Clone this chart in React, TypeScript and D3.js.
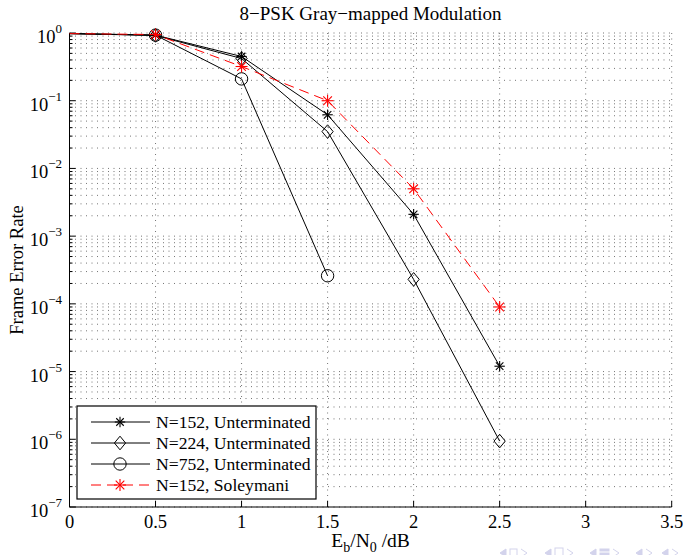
import React from "react";
import * as d3 from "d3";

const W = 683;
const H = 555;

const xTickValues = [0, 0.5, 1, 1.5, 2, 2.5, 3, 3.5];
const xTickLabels = ["0", "0.5", "1", "1.5", "2", "2.5", "3", "3.5"];
const yExponents = [0, -1, -2, -3, -4, -5, -6, -7];

const ebno = [0, 0.5, 1, 1.5, 2, 2.5];
const fer152 = [0.98, 0.93, 0.45, 0.062, 0.0021, 1.2e-5];
const fer224 = [0.98, 0.92, 0.42, 0.035, 2.3e-4, 9.4e-7];
const fer752 = [0.98, 0.93, 0.21, 2.6e-4];
const ferSoleymani = [0.98, 0.95, 0.32, 0.1, 0.005, 9e-5];

const seriesNames = [
  "N=152, Unterminated",
  "N=224, Unterminated",
  "N=752, Unterminated",
  "N=152, Soleymani",
];

type Series = {
  name: string;
  values: number[];
  color: string;
  dash?: string;
  marker: "star" | "diamond" | "circle";
};

const series: Series[] = [
  { name: seriesNames[0], values: fer152, color: "#000", marker: "star" },
  { name: seriesNames[1], values: fer224, color: "#000", marker: "diamond" },
  { name: seriesNames[2], values: fer752, color: "#000", marker: "circle" },
  { name: seriesNames[3], values: ferSoleymani, color: "#ff0000", dash: "10,6", marker: "star" },
];

const left = 69.5;
const right = 671.7;
const top = 33;
const bottom = 507;

const x = d3.scaleLinear().domain([0, 3.5]).range([left, right]);
const y = d3.scaleLog().domain([1e-7, 1]).range([bottom, top]);

function Marker({ kind, cx, cy, color, big }: { kind: string; cx: number; cy: number; color: string; big?: boolean }) {
  if (kind === "star") {
    const r = big ? 6 : 5.2;
    const d = r * 0.72;
    return (
      <g stroke={color} strokeWidth={1.1}>
        <line x1={cx - r} y1={cy} x2={cx + r} y2={cy} />
        <line x1={cx} y1={cy - r} x2={cx} y2={cy + r} />
        <line x1={cx - d} y1={cy - d} x2={cx + d} y2={cy + d} />
        <line x1={cx - d} y1={cy + d} x2={cx + d} y2={cy - d} />
      </g>
    );
  }
  if (kind === "diamond") {
    const r = 6.8;
    const rx = 5.6;
    return (
      <path
        d={`M${cx},${cy - r}L${cx + rx},${cy}L${cx},${cy + r}L${cx - rx},${cy}Z`}
        fill="none"
        stroke={color}
        strokeWidth={1}
      />
    );
  }
  return <circle cx={cx} cy={cy} r={6.2} fill="none" stroke={color} strokeWidth={1} />;
}

export default function App() {
  const line = d3
    .line<number>()
    .x((_, i) => x(ebno[i]))
    .y((v) => y(v));

  const minorY: number[] = [];
  for (let e = -7; e < 0; e++) {
    for (let m = 2; m <= 9; m++) minorY.push(m * Math.pow(10, e));
  }
  const majorY = yExponents.map((e) => Math.pow(10, e));

  const serif = "'Liberation Serif', 'Times New Roman', serif";

  const legendX = 77;
  const legendY = 406;
  const legendW = 239;
  const legendH = 93;
  const rowH = 21;

  return (
    <svg
      width={W}
      height={H}
      style={{ position: "absolute", left: 0, top: 0, background: "#fff" }}
      fontFamily={serif}
    >
      <rect x={0} y={0} width={W} height={H} fill="#fff" />
      {/* grid */}
      <g stroke="#333" strokeWidth={0.9} strokeDasharray="1,4.5" opacity={0.75}>
        {minorY.concat(majorY).map((v, i) => (
          <line key={"h" + i} x1={left} x2={right} y1={y(v)} y2={y(v)} />
        ))}
        {xTickValues.slice(1).map((v, i) => (
          <line key={"v" + i} x1={x(v)} x2={x(v)} y1={top} y2={bottom} />
        ))}
      </g>
      {/* axes */}
      <g stroke="#000" strokeWidth={1}>
        <line x1={left} x2={left} y1={top} y2={bottom} />
        <line x1={left} x2={right} y1={bottom} y2={bottom} />
        {xTickValues.map((v, i) => (
          <line key={"xt" + i} x1={x(v)} x2={x(v)} y1={bottom} y2={bottom - 6} />
        ))}
        {majorY.map((v, i) => (
          <line key={"yt" + i} x1={left} x2={left + 6} y1={y(v)} y2={y(v)} />
        ))}
        {minorY.map((v, i) => (
          <line key={"ym" + i} x1={left} x2={left + 3} y1={y(v)} y2={y(v)} />
        ))}
      </g>
      {/* tick labels */}
      <g fontSize={18.5} fill="#000">
        {xTickValues.map((v, i) => (
          <text key={"xl" + i} x={x(v)} y={bottom + 21} textAnchor="middle">
            {xTickLabels[i]}
          </text>
        ))}
        {yExponents.map((e, i) => (
          <text key={"yl" + i} x={62} y={y(Math.pow(10, e)) + 10} textAnchor="end">
            10
            <tspan fontSize={13} dy={-10}>
              {e === 0 ? "0" : "\u2212" + Math.abs(e)}
            </tspan>
          </text>
        ))}
      </g>
      {/* axis labels and title */}
      <text x={(left + right) / 2} y={20} textAnchor="middle" fontSize={19}>
        8−PSK Gray−mapped Modulation
      </text>
      <text x={(left + right) / 2} y={547} fontSize={19.5} textAnchor="middle">
        E
        <tspan fontSize={14} dy={5}>b</tspan>
        <tspan dy={-5}>/N</tspan>
        <tspan fontSize={14} dy={5}>0</tspan>
        <tspan dy={-5}> /dB</tspan>
      </text>
      <text
        transform={`translate(23,${(top + bottom) / 2}) rotate(-90)`}
        textAnchor="middle"
        fontSize={18.5}
      >
        Frame Error Rate
      </text>
      {/* data */}
      {series.map((s, si) => (
        <g key={"s" + si}>
          <path
            d={line(s.values) || ""}
            fill="none"
            stroke={s.color}
            strokeWidth={1}
            strokeDasharray={s.dash}
          />
          {s.values.slice(1).map((v, i) => (
            <Marker
              key={i}
              kind={s.marker}
              cx={x(ebno[i + 1])}
              cy={y(v)}
              color={s.color}
              big={s.color !== "#000"}
            />
          ))}
        </g>
      ))}
      {/* legend */}
      <g>
        <rect x={legendX} y={legendY} width={legendW} height={legendH} fill="#fff" stroke="#000" strokeWidth={1.2} />
        {series.map((s, i) => {
          const cy = legendY + 16 + i * rowH;
          return (
            <g key={"lg" + i}>
              <line
                x1={legendX + 14}
                x2={legendX + 73}
                y1={cy}
                y2={cy}
                stroke={s.color}
                strokeWidth={1}
                strokeDasharray={s.dash}
              />
              <Marker kind={s.marker} cx={legendX + 43} cy={cy} color={s.color} big={s.color !== "#000"} />
              <text x={legendX + 79} y={cy + 6} fontSize={17.6}>
                {s.name}
              </text>
            </g>
          );
        })}
      </g>
      {/* beamer navigation symbols */}
      <g fill="#c9c9e8" stroke="#c9c9e8" opacity={0.8}>
        <path d="M500,553 l6,-4 v8 z" />
        <rect x={510} y={549} width={7} height={8} fill="none" />
        <path d="M521,549 l6,4 l-6,4" fill="none" />
        <path d="M545,553 l6,-4 v8 z" />
        <rect x={555} y={548} width={8} height={9} fill="none" />
        <path d="M567,549 l6,4 l-6,4" fill="none" />
        <path d="M590,553 l6,-4 v8 z" />
        <rect x={600} y={549} width={9} height={2} />
        <rect x={600} y={553} width={9} height={2} />
        <path d="M613,549 l6,4 l-6,4" fill="none" />
        <path d="M636,553 l6,-4 v8 z" />
        <path d="M646,549 l6,4 l-6,4" fill="none" />
        <path d="M662,553 l6,-4 v8 z" />
        <path d="M672,549 l6,4 l-6,4" fill="none" />
      </g>
    </svg>
  );
}
